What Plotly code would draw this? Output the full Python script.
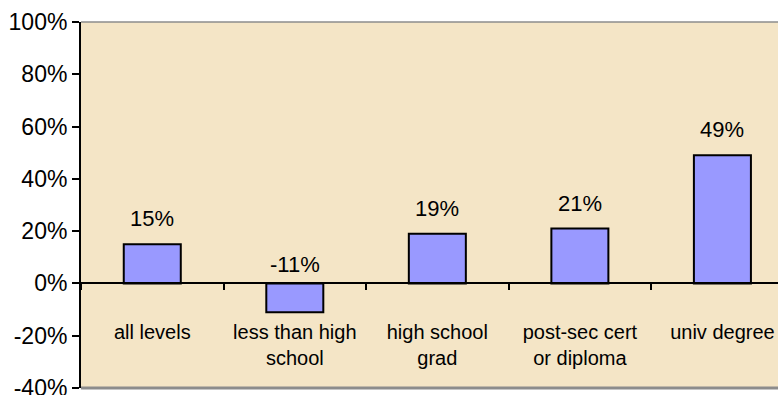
import plotly.graph_objects as go

categories = ["all levels", "less than high<br>school", "high school<br>grad",
              "post-sec cert<br>or diploma", "univ degree"]
values = [15, -11, 19, 21, 49]
y_ticks = [-40, -20, 0, 20, 40, 60, 80, 100]
y_tick_labels = [f"{v}%" for v in y_ticks]

FONT = "Liberation Sans, Arial, sans-serif"

fig = go.Figure()
fig.add_trace(go.Bar(
    x=categories, y=values, width=0.4,
    marker=dict(color="#9999FF", line=dict(color="black", width=2)),
    hoverinfo="skip",
))

for c, v in zip(categories, values):
    fig.add_annotation(
        x=c, y=max(v, 0), text=f"{v}%", showarrow=False,
        xref="x", yref="y", yanchor="bottom",
        yshift=11 if v >= 0 else 4,
        font=dict(family=FONT, size=22, color="black"),
    )

ymin, ymax = y_ticks[0], y_ticks[-1]
fig.update_layout(
    width=778, height=395,
    margin=dict(l=81, r=0, t=22, b=7),
    paper_bgcolor="white",
    plot_bgcolor="#F4E5C6",
    showlegend=False,
    font=dict(family=FONT, color="black"),
    xaxis=dict(
        type="category", range=[-0.5, 4.39],
        anchor="free", position=(0 - ymin) / (ymax - ymin),
        showline=True, linecolor="black", linewidth=2,
        ticks="outside", tickson="boundaries", ticklen=6, tickwidth=1.5, tickcolor="black",
        tickfont=dict(family=FONT, size=20, color="black"),
        ticklabelstandoff=31, automargin=False,
        showgrid=False, zeroline=False,
    ),
    yaxis=dict(
        range=[ymin, ymax], tickmode="array", tickvals=y_ticks, ticktext=y_tick_labels,
        ticklabeloverflow="allow", automargin=False,
        showline=True, linecolor="black", linewidth=2,
        ticks="outside", ticklen=7, tickwidth=2, tickcolor="black",
        tickfont=dict(family=FONT, size=23, color="black"),
        showgrid=False, zeroline=False,
    ),
    shapes=[
        dict(type="line", xref="paper", yref="paper", x0=0, x1=1, y0=1, y1=1,
             line=dict(color="#8C8C8C", width=1.5)),
        dict(type="line", xref="paper", yref="paper", x0=0, x1=1, y0=0, y1=0,
             line=dict(color="#8C8C8C", width=3)),
    ],
)

fig.write_html("out.html")
